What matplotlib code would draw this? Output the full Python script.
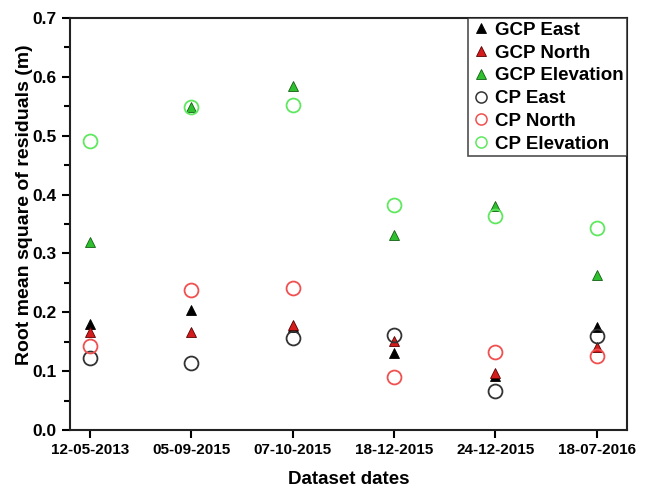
import matplotlib
matplotlib.use("Agg")
import matplotlib.pyplot as plt
from matplotlib.ticker import MultipleLocator, FormatStrFormatter

plt.rcParams['font.family'] = ['Liberation Sans', 'DejaVu Sans']
plt.rcParams['font.weight'] = 'bold'

dates = ["12-05-2013", "05-09-2015", "07-10-2015", "18-12-2015", "24-12-2015", "18-07-2016"]

gcp_east = [0.180, 0.203, 0.175, 0.130, 0.092, 0.175]
gcp_north = [0.167, 0.167, 0.178, 0.151, 0.096, 0.141]
gcp_elev = [0.320, 0.548, 0.585, 0.332, 0.380, 0.263]
cp_east = [0.122, 0.113, 0.156, 0.162, 0.066, 0.159]
cp_north = [0.142, 0.237, 0.241, 0.090, 0.132, 0.125]
cp_elev = [0.491, 0.548, 0.552, 0.383, 0.364, 0.344]

fig = plt.figure(figsize=(6.62, 4.94), dpi=100)
ax = fig.add_axes([0.1057, 0.1296, 0.8413, 0.834])
x = list(range(len(dates)))

tri = dict(marker='^', linestyle='none', markersize=7, markeredgewidth=0.6)
circ = dict(marker='o', linestyle='none', markersize=10, markerfacecolor='none', markeredgewidth=1.3)

ax.plot(x, gcp_east, color='black', markeredgecolor='black', label='GCP East', **tri)
ax.plot(x, gcp_north, color='#d41c1c', markeredgecolor='#5a0000', label='GCP North', **tri)
ax.plot(x, gcp_elev, color='#2ec02e', markeredgecolor='#135f13', label='GCP Elevation', **tri)
ax.plot(x, cp_east, markeredgecolor='#333333', label='CP East', **circ)
ax.plot(x, cp_north, markeredgecolor='#f05050', label='CP North', **circ)
ax.plot(x, cp_elev, markeredgecolor='#5fe85f', label='CP Elevation', **circ)

ax.set_xlim(-0.2, 5.3)
ax.set_ylim(0, 0.7)
ax.set_xticks(x)
ax.set_xticklabels(dates, fontsize=11)
ax.yaxis.set_major_locator(MultipleLocator(0.1))
ax.yaxis.set_minor_locator(MultipleLocator(0.05))
ax.yaxis.set_major_formatter(FormatStrFormatter('%.1f'))
ax.tick_params(axis='y', which='major', labelsize=12.5)
ax.tick_params(axis='both', which='major', width=1.5, length=6, direction='out')
ax.tick_params(axis='y', which='minor', width=1.5, length=4, direction='out')
for sp in ax.spines.values():
    sp.set_linewidth(1.5)
    sp.set_color('#222222')

ax.set_xlabel('Dataset dates', fontsize=13.5, fontweight='bold', labelpad=10)
ax.set_ylabel('Root mean square of residuals (m)', fontsize=14, fontweight='bold')
ax.yaxis.set_label_coords(-0.066, 0.546)

leg = ax.legend(loc='upper right', fontsize=13.5, frameon=True, fancybox=False,
                borderaxespad=0, handletextpad=0.2, handlelength=1.0,
                labelspacing=0.3, borderpad=0.2)
leg.get_frame().set_edgecolor('#222222')
leg.get_frame().set_linewidth(1.2)
for h in leg.legend_handles[3:]:
    h.set_markersize(8)
    h.set_markeredgewidth(1.1)

fig.savefig('out.png', dpi=100)
